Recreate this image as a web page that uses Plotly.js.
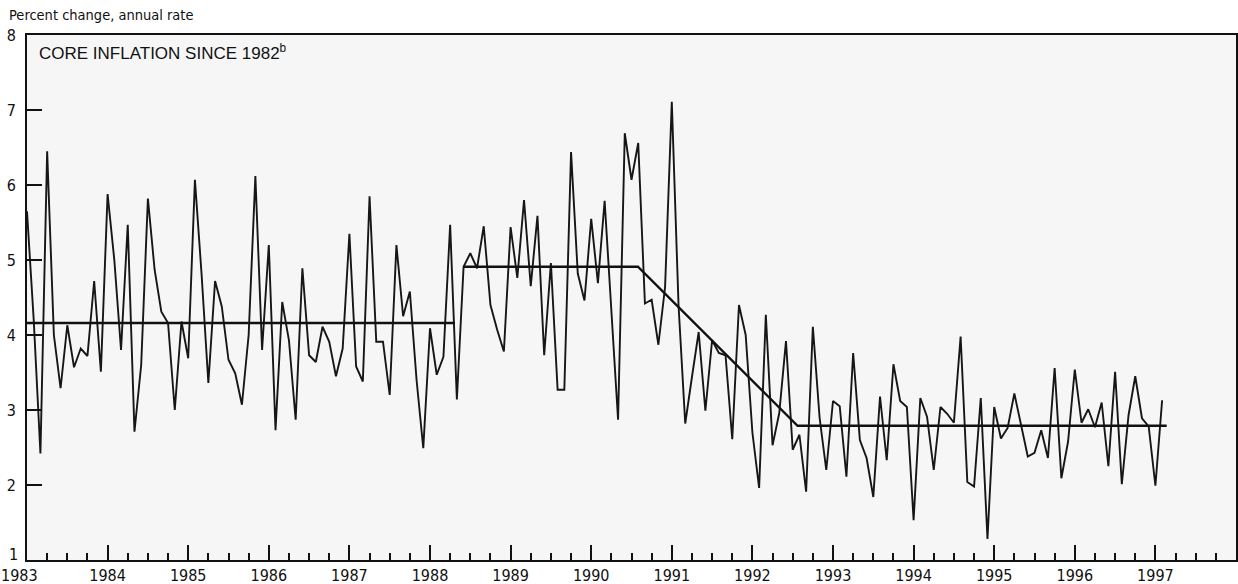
<!DOCTYPE html>
<html>
<head>
<meta charset="utf-8">
<script src="https://cdn.plot.ly/plotly-3.0.1.min.js"></script>
<style>
  html, body { margin: 0; padding: 0; background: #ffffff; }
  #chart { width: 1238px; height: 584px; }
</style>
</head>
<body>
<div id="chart"></div>
<script>
// Monthly core inflation, Jan 1983 .. Feb 1997 (percent change, annual rate)
const startYear = 1983;
const inflation = [
  // 1983
  5.65, 4.2, 2.42, 6.45, 4.0, 3.29, 4.13, 3.57, 3.82, 3.72, 4.72, 3.51,
  // 1984
  5.88, 5.0, 3.8, 5.47, 2.71, 3.6, 5.82, 4.87, 4.31, 4.16, 3.0, 4.18,
  // 1985
  3.69, 6.07, 4.8, 3.36, 4.72, 4.38, 3.67, 3.49, 3.07, 4.0, 6.12, 3.8,
  // 1986
  5.2, 2.73, 4.44, 3.93, 2.87, 4.89, 3.73, 3.64, 4.11, 3.91, 3.45, 3.82,
  // 1987
  5.35, 3.58, 3.38, 5.85, 3.91, 3.91, 3.2, 5.2, 4.25, 4.58, 3.4, 2.49,
  // 1988
  4.09, 3.47, 3.71, 5.47, 3.14, 4.91, 5.09, 4.89, 5.45, 4.4, 4.07, 3.78,
  // 1989
  5.44, 4.76, 5.8, 4.65, 5.59, 3.73, 4.96, 3.27, 3.27, 6.44, 4.82, 4.46,
  // 1990
  5.55, 4.69, 5.79, 4.33, 2.87, 6.69, 6.07, 6.56, 4.42, 4.47, 3.87, 4.64,
  // 1991
  7.11, 4.4, 2.82, 3.44, 4.04, 2.99, 3.93, 3.76, 3.73, 2.61, 4.4, 4.0,
  // 1992
  2.7, 1.96, 4.27, 2.53, 2.96, 3.92, 2.47, 2.67, 1.91, 4.11, 2.9, 2.2,
  // 1993
  3.12, 3.05, 2.11, 3.76, 2.6, 2.36, 1.84, 3.18, 2.33, 3.61, 3.12, 3.04,
  // 1994
  1.53, 3.16, 2.91, 2.2, 3.04, 2.95, 2.83, 3.98, 2.04, 1.98, 3.16, 1.28,
  // 1995
  3.04, 2.62, 2.76, 3.22, 2.78, 2.38, 2.43, 2.73, 2.36, 3.56, 2.09, 2.58,
  // 1996
  3.54, 2.83, 3.01, 2.77, 3.1, 2.25, 3.51, 2.01, 2.93, 3.45, 2.89, 2.78,
  // 1997
  1.99, 3.13
];
const months = inflation.map((v, i) => startYear + i / 12);

// Trend (piecewise) line
const trendX = [1983.0, 1988.31, null, 1988.41, 1990.58, 1992.56, 1997.14];
const trendY = [4.16, 4.16, null, 4.91, 4.91, 2.79, 2.79];

// Axis ticks (first year label and lowest y label are placed separately to avoid collision)
const yearTicks = [1984,1985,1986,1987,1988,1989,1990,1991,1992,1993,1994,1995,1996,1997];
const yearLabels = yearTicks.map(String);
const firstYear = 1983;
const yTicks = [2,3,4,5,6,7,8];
const yBottom = 1;

const narrow = 'Liberation Sans Narrow, DejaVu Sans Condensed, Arial Narrow, sans-serif';

const traces = [
  {
    x: months, y: inflation, type: 'scatter', mode: 'lines',
    line: { color: '#161616', width: 1.9 }, hoverinfo: 'skip', showlegend: false
  },
  {
    x: trendX, y: trendY, type: 'scatter', mode: 'lines',
    line: { color: '#111111', width: 2.4 }, hoverinfo: 'skip', showlegend: false,
    connectgaps: false
  }
];

const layout = {
  width: 1238, height: 584,
  margin: { l: 27, r: 2, t: 35, b: 24 },
  paper_bgcolor: '#ffffff',
  plot_bgcolor: '#f6f6f6',
  showlegend: false,
  font: { family: narrow, size: 16, color: '#111' },
  xaxis: {
    range: [1983, 1998],
    tickvals: yearTicks, ticktext: yearLabels,
    ticks: 'inside', ticklen: 15, tickwidth: 2, tickcolor: '#111',
    minor: { dtick: 0.25, tick0: 1983, ticks: 'inside', ticklen: 7, tickwidth: 2, tickcolor: '#111', showgrid: false },
    showgrid: false, zeroline: false,
    showline: true, linecolor: '#111', linewidth: 2, mirror: true,
    tickfont: { family: narrow, size: 16, color: '#111' }
  },
  yaxis: {
    range: [1, 8],
    tickvals: yTicks,
    ticks: 'inside', ticklen: 15, tickwidth: 2, tickcolor: '#111',
    showgrid: false, zeroline: false,
    showline: true, linecolor: '#111', linewidth: 2, mirror: true,
    tickfont: { family: narrow, size: 16, color: '#111' },
    ticklabelstandoff: 6
  },
  annotations: [
    {
      text: String(firstYear),
      xref: 'x', yref: 'paper', x: firstYear, y: 0,
      xanchor: 'center', yanchor: 'top', xshift: -8, yshift: -4,
      showarrow: false, font: { family: narrow, size: 16, color: '#111' }
    },
    {
      text: String(yBottom),
      xref: 'paper', yref: 'y', x: 0, y: yBottom,
      xanchor: 'right', yanchor: 'middle', xshift: -7, yshift: 6,
      showarrow: false, font: { family: narrow, size: 16, color: '#111' }
    },
    {
      text: 'Percent change, annual rate',
      xref: 'paper', yref: 'paper', x: 0, y: 1,
      xanchor: 'left', yanchor: 'middle', xshift: -20, yshift: 20,
      showarrow: false, font: { family: narrow, size: 14.5, color: '#111' }
    },
    {
      text: 'CORE INFLATION SINCE 1982<sup>b</sup>',
      xref: 'paper', yref: 'paper', x: 0, y: 1,
      xanchor: 'left', yanchor: 'middle', xshift: 10, yshift: -17,
      showarrow: false, font: { family: 'Liberation Sans, Arial, sans-serif', size: 17, color: '#111' }
    }
  ]
};

Plotly.newPlot('chart', traces, layout, { staticPlot: true, displayModeBar: false });
</script>
</body>
</html>
